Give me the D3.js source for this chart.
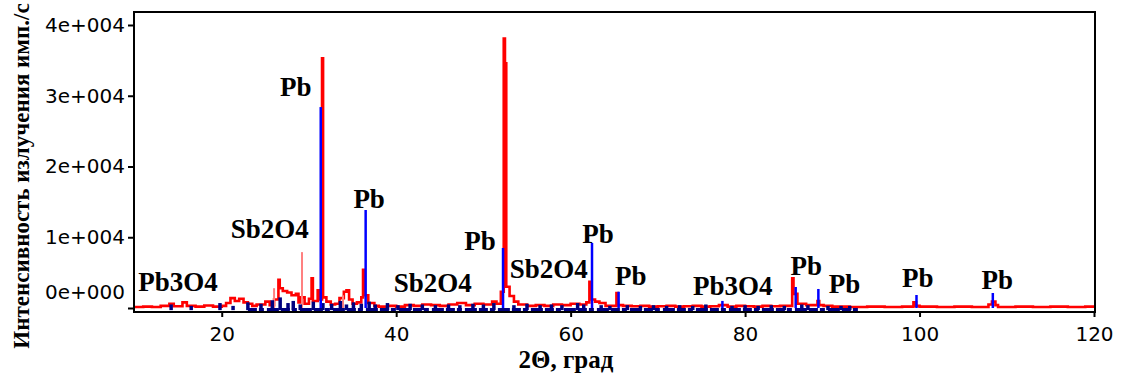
<!DOCTYPE html>
<html>
<head>
<meta charset="utf-8">
<script src="https://cdn.jsdelivr.net/npm/d3@7"></script>
<style>
  body { margin: 0; background: #fff; }
  svg { display: block; }
</style>
</head>
<body>
<div id="chart"></div>
<script>
// axis ticks
const xTicks = [20, 40, 60, 80, 100, 120];
const yTicks = [0, 10000, 20000, 30000, 40000];

// measured pattern (red), 2theta / counts
const redX = [10, 11, 12, 13, 14, 14.5, 15.5, 16, 17, 18, 19, 20, 20.5, 21, 21.5, 22, 22.5, 23, 23.5, 24, 25, 25.5,
  26, 26.5, 26.65, 27, 27.5, 28, 28.5, 28.8, 29, 29.5, 30, 30.3, 30.45, 31.0, 31.2, 31.5, 31.62, 32, 32.5, 33, 33.5,
  34, 34.3, 34.6, 35, 35.5, 36.0, 36.2, 36.35, 36.8, 37.5, 38, 39, 40, 41, 42, 43, 44, 45, 46, 47, 48, 49, 50,
  51, 51.5, 52.0, 52.33, 52.47, 52.62, 53, 53.5, 54, 55, 56, 57, 58, 59, 60, 61, 61.8, 62.15, 62.3, 62.8, 63.3, 64,
  65.25, 65.4, 66, 67, 68, 69, 70, 71, 72, 73, 74, 75, 76, 77, 78, 79, 80, 81, 82, 83, 84, 85.4, 85.55, 86, 87,
  88.3, 88.5, 89, 90, 92, 94, 96, 98, 99.3, 99.6, 100, 102, 104, 106, 107.9, 108.3, 108.7, 109, 111, 113, 115,
  117, 119, 120];
const redY = [150, 200, 150, 300, 600, 250, 800, 300, 200, 350, 200, 300, 700, 1400, 1000, 1300, 800, 600, 300, 500, 900, 400,
  1200, 4000, 2800, 2400, 2200, 1800, 2000, 800, 1500, 600, 1300, 4200, 1000, 2500, 1200, 35300, 1500, 900, 500, 600, 1400,
  2300, 2500, 1200, 600, 800, 1500, 5400, 1800, 700, 300, 200, 300, 200, 400, 300, 500, 400, 300, 500, 700, 400, 600, 500,
  900, 600, 2300, 38100, 34600, 3000, 1700, 900, 500, 300, 400, 300, 500, 400, 600, 500, 800, 3700, 1200, 900, 700, 300,
  2100, 400, 300, 250, 300, 200, 250, 300, 200, 250, 300, 200, 250, 400, 200, 300, 250, 200, 300, 250, 300, 4200, 2000, 600, 400,
  1000, 400, 300, 200, 150, 200, 150, 200, 800, 300, 200, 150, 200, 150, 500, 900, 400, 150, 200, 150, 200,
  150, 200, 150];

// faint red lines
const pinkX = [26.0, 29.2, 33.9];
const pinkY = [2800, 7900, 1800];

// dark blue pattern near the base
const navyX = [14.2, 16.5, 19.8, 21.3, 23.0, 24.5, 25.8, 26.7, 27.6, 28.2, 29.0, 30.5, 31.6, 32.6, 33.6, 34.3, 35.1,
  36.0, 36.9, 37.6, 39.0, 40.2, 41.6, 43.0, 44.5, 46.0, 47.3, 48.8, 50.0, 51.2, 53.5, 55.0, 56.5, 57.8, 59.0, 60.8,
  61.5, 63.5, 64.5, 66.5, 68.0, 69.5, 71.0, 72.5, 74.0, 75.5, 78.5, 80.0, 81.5, 83.0, 84.5, 86.5, 87.2, 89.5, 91.0, 92.0];
const navyY = [500, 300, 700, 300, 800, 600, 1100, 1500, 700, 1000, 500, 900, 700, 600, 1000, 500, 800,
  600, 900, 500, 700, 400, 600, 500, 400, 500, 400, 600, 500, 700, 400, 600, 400, 500, 400, 700,
  500, 400, 300, 400, 300, 400, 300, 400, 300, 500, 300, 400, 300, 400, 300, 500, 400, 300, 300, 300];
const navyBand = [23, 93];

// Pb reference lines (blue)
const pbX = [31.35, 36.5, 52.25, 62.45, 65.5, 77.4, 85.8, 88.4, 99.65, 108.4];
const pbY = [28400, 13850, 8480, 9190, 2300, 1000, 2970, 2690, 1840, 2120];

// phase labels
const labelText = ['Pb3O4', 'Sb2O4', 'Pb', 'Pb', 'Sb2O4', 'Pb', 'Sb2O4', 'Pb', 'Pb', 'Pb3O4', 'Pb', 'Pb', 'Pb', 'Pb'];
const labelX = [15.0, 25.5, 28.5, 36.9, 44.2, 49.6, 57.5, 63.15, 66.9, 78.6, 87.0, 91.4, 99.8, 108.9];
const labelY = [2400, 9900, 29960, 14130, 2260, 8200, 4240, 9190, 3250, 1840, 4660, 2120, 2970, 2690];

const W = 1123, H = 380;
const box = { left: 134, right: 1095, top: 12, bottom: 312 };

const svg = d3.select('#chart').append('svg')
  .attr('width', W).attr('height', H);

const x = d3.scaleLinear().domain([10, 120]).range([134.5, 1094]);
const y = d3.scaleLinear().domain([0, 40000]).range([308, 25]);

// red measured line
const redLine = d3.line()
  .x((d) => x(d[0]))
  .y((d) => y(d[1]))
  .curve(d3.curveStepAfter);
svg.append('path')
  .datum(redX.map((v, i) => [v, redY[i]]))
  .attr('d', redLine)
  .attr('fill', 'none')
  .attr('stroke', '#ff0000')
  .attr('stroke-width', 2.6);

svg.append('g').selectAll('line')
  .data(pinkX)
  .enter().append('line')
  .attr('x1', (d) => x(d)).attr('x2', (d) => x(d))
  .attr('y1', y(0)).attr('y2', (d, i) => y(pinkY[i]))
  .attr('stroke', '#ff8080')
  .attr('stroke-width', 2);

// navy base
svg.append('line')
  .attr('x1', x(navyBand[0])).attr('x2', x(navyBand[1]))
  .attr('y1', y(-200)).attr('y2', y(-200))
  .attr('stroke', '#00007f')
  .attr('stroke-width', 3)
  .attr('stroke-dasharray', '9,2,5,3,12,2');

svg.append('g').selectAll('line')
  .data(navyX)
  .enter().append('line')
  .attr('x1', (d) => x(d)).attr('x2', (d) => x(d))
  .attr('y1', y(-300)).attr('y2', (d, i) => y(navyY[i]))
  .attr('stroke', '#00007f')
  .attr('stroke-width', 3.5);

// Pb sticks
svg.append('g').selectAll('line')
  .data(pbX)
  .enter().append('line')
  .attr('x1', (d) => x(d)).attr('x2', (d) => x(d))
  .attr('y1', y(0)).attr('y2', (d, i) => y(pbY[i]))
  .attr('stroke', '#0000ff')
  .attr('stroke-width', 2.5);

// frame
svg.append('rect')
  .attr('x', box.left).attr('y', box.top)
  .attr('width', box.right - box.left).attr('height', box.bottom - box.top)
  .attr('fill', 'none')
  .attr('stroke', '#000')
  .attr('stroke-width', 2);

// axes
const xAxis = svg.append('g')
  .attr('transform', `translate(0, ${box.bottom})`)
  .call(d3.axisBottom(x).tickValues(xTicks).tickSize(5).tickSizeOuter(0).tickFormat(d3.format('d')));
xAxis.select('.domain').remove();

const yAxis = svg.append('g')
  .attr('transform', `translate(${box.left}, 0)`)
  .call(d3.axisLeft(y).tickValues(yTicks).tickSize(6).tickSizeOuter(0)
    .tickFormat((d) => d === 0 ? '0e+000' : (d / 10000) + 'e+004'));
yAxis.select('.domain').remove();
yAxis.selectAll('.tick text').filter((d) => d === 0).attr('dy', '-0.5em');

svg.selectAll('.tick line').attr('stroke', '#000').attr('stroke-width', 2);
svg.selectAll('.tick text')
  .attr('font-family', 'DejaVu Sans')
  .attr('font-size', '20px')
  .attr('fill', '#000');
xAxis.selectAll('.tick text').attr('dy', '1.05em');
yAxis.selectAll('.tick text').attr('x', -9);

// labels
svg.append('g').selectAll('text')
  .data(labelText)
  .enter().append('text')
  .attr('x', (d, i) => x(labelX[i]))
  .attr('y', (d, i) => y(labelY[i]))
  .attr('text-anchor', 'middle')
  .attr('font-family', 'Liberation Serif')
  .attr('font-weight', 'bold')
  .attr('font-size', '27px')
  .attr('fill', '#000')
  .text((d) => d);

// axis titles
svg.append('text')
  .attr('x', 566).attr('y', 368)
  .attr('text-anchor', 'middle')
  .attr('font-family', 'Liberation Serif')
  .attr('font-weight', 'bold')
  .attr('font-size', '25px')
  .text('2Θ, град');

svg.append('text')
  .attr('transform', 'translate(29, 176) rotate(-90)')
  .attr('text-anchor', 'middle')
  .attr('font-family', 'Liberation Serif')
  .attr('font-weight', 'bold')
  .attr('font-size', '23px')
  .text('Интенсивность излучения имп./с');
</script>
</body>
</html>
